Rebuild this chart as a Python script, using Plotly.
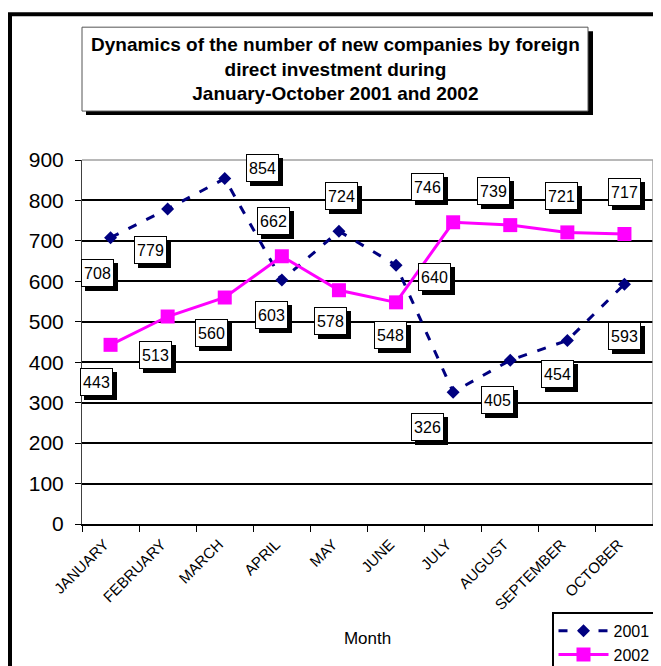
import plotly.graph_objects as go

months = ["JANUARY", "FEBRUARY", "MARCH", "APRIL", "MAY", "JUNE",
          "JULY", "AUGUST", "SEPTEMBER", "OCTOBER"]
values_2001 = [708, 779, 854, 603, 724, 640, 326, 405, 454, 593]
values_2002 = [443, 513, 560, 662, 578, 548, 746, 739, 721, 717]
y_ticks = [0, 100, 200, 300, 400, 500, 600, 700, 800, 900]

# label offsets in pixels (dx right, dy down) relative to each point
offsets_2001 = [(-13, 35), (-17, 41), (38, -11), (-10, 35), (3, -35),
                (38, 12), (-26, 35), (-13, 40), (-10, 34), (0, 52)]
offsets_2002 = [(-14, 37), (-12, 38), (-13, 35), (-8, -35), (-8, 31),
                (-6, 33), (-26, -35), (-17, -34), (-6, -36), (0, -42)]

PAGE = 8  # default page margin of the browser body
W, H = 661 - PAGE, 666 - PAGE
L, T = 82 - PAGE, 160 - PAGE
PW = 653 - 82
PH = 524.5 - 160
R = W - L - PW
B = H - T - PH


def px(x):  # reference-pixel x -> paper coordinate
    return (x - PAGE - L) / PW


def py(y):  # reference-pixel y -> paper coordinate
    return (T + PH - (y - PAGE)) / PH


FONT = "Liberation Sans, Arial, sans-serif"

fig = go.Figure()
fig.add_trace(go.Scatter(
    x=months, y=values_2001, name="2001", mode="lines+markers",
    line=dict(color="#000080", width=3, dash="9px,11px"),
    marker=dict(symbol="diamond", size=10, color="#000080"),
))
fig.add_trace(go.Scatter(
    x=months, y=values_2002, name="2002", mode="lines+markers",
    line=dict(color="#FF00FF", width=3),
    marker=dict(symbol="square", size=14, color="#FF00FF"),
))

annotations = []
shadows = []
for vals, offs in ((values_2001, offsets_2001), (values_2002, offsets_2002)):
    for m, v, (dx, dy) in zip(months, vals, offs):
        shadows.append(dict(
            x=m, y=v, xref="x", yref="y", text=str(v), showarrow=False,
            xshift=dx + 4, yshift=-(dy + 4), width=29, height=24,
            bgcolor="black", bordercolor="black", borderwidth=1, borderpad=1,
            font=dict(family=FONT, size=16, color="black"),
        ))
        annotations.append(dict(
            x=m, y=v, xref="x", yref="y", text=str(v), showarrow=False,
            xshift=dx, yshift=-dy, width=29, height=24,
            bgcolor="white", bordercolor="black", borderwidth=1, borderpad=1,
            font=dict(family=FONT, size=16, color="black"),
        ))

title_text = ("<b>Dynamics of the number of new companies by foreign<br>"
              "direct investment during<br>January-October 2001 and 2002</b>")
annotations.append(dict(
    x=px(335), y=py(69), xref="paper", yref="paper", text=title_text,
    showarrow=False, xanchor="center", yanchor="middle", align="center",
    font=dict(family=FONT, size=19, color="black"),
))

shapes = [
    # outer chart frame (left and top edges visible)
    dict(type="line", xref="paper", yref="paper", x0=px(10), x1=px(10),
         y0=py(14), y1=py(700), line=dict(color="black", width=4)),
    dict(type="line", xref="paper", yref="paper", x0=px(8), x1=px(700),
         y0=py(14), y1=py(14), line=dict(color="black", width=4)),
    # title box shadow and box
    dict(type="rect", xref="paper", yref="paper", x0=px(86), x1=px(593),
         y0=py(115), y1=py(31), fillcolor="black", line=dict(width=0)),
    dict(type="rect", xref="paper", yref="paper", x0=px(82), x1=px(588),
         y0=py(111), y1=py(27), fillcolor="white",
         line=dict(color="#555555", width=1)),
    # plot area top and right border (grey)
    dict(type="line", xref="paper", yref="paper", x0=0, x1=1, y0=1, y1=1,
         line=dict(color="#a0a0a0", width=1.5)),
    dict(type="line", xref="paper", yref="paper", x0=1, x1=1, y0=0, y1=1,
         line=dict(color="#a0a0a0", width=1.5)),
]

fig.update_layout(
    width=W, height=H,
    margin=dict(l=L, r=R, t=T, b=B, autoexpand=False),
    paper_bgcolor="white", plot_bgcolor="white",
    font=dict(family=FONT, color="black"),
    showlegend=True,
    legend=dict(
        x=px(552), y=py(613), xanchor="left", yanchor="top",
        bgcolor="white", bordercolor="black", borderwidth=1.5,
        font=dict(family=FONT, size=16, color="black"),
        tracegroupgap=0, itemwidth=50,
    ),
    xaxis=dict(
        type="category", range=[-0.5, 9.5], tickson="boundaries",
        ticks="outside", ticklen=6, tickcolor="black", tickwidth=1,
        showline=True, linecolor="black", linewidth=1.5,
        showgrid=False, tickangle=-45, zeroline=False,
        tickfont=dict(family=FONT, size=15, color="black"),
        ticklabelstandoff=4, ticklabelshift=-6,
        title=dict(text="Month", standoff=20,
                   font=dict(family=FONT, size=17, color="black")),
        automargin=False,
    ),
    yaxis=dict(
        range=[0, 900], tickvals=y_ticks, ticktext=[str(t) for t in y_ticks],
        ticks="outside", ticklen=6, tickcolor="black", tickwidth=1,
        showline=True, linecolor="#404040", linewidth=1,
        showgrid=True, gridcolor="black", gridwidth=1.5, zeroline=False,
        tickfont=dict(family=FONT, size=21, color="black"),
        ticklabelstandoff=7,
        automargin=False,
    ),
    annotations=shadows + annotations,
    shapes=shapes,
)

fig.write_html("out.html")
